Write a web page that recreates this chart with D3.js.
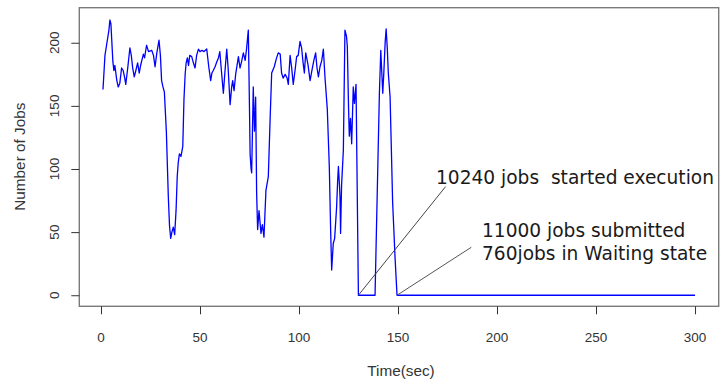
<!DOCTYPE html>
<html>
<head>
<meta charset="utf-8">
<script src="https://cdn.jsdelivr.net/npm/d3@7"></script>
<style>
  body { margin: 0; background: #fff; }
  svg { display: block; }
  .tick-label { font-family: "Liberation Sans", Arial, sans-serif; font-size: 13.5px; fill: #333; }
  .axis-title { font-family: "Liberation Sans", Arial, sans-serif; font-size: 15.3px; fill: #333; }
  .note { font-family: "DejaVu Sans", sans-serif; font-size: 18.6px; fill: #1a1a1a; white-space: pre; }
</style>
</head>
<body>
<svg id="chart"></svg>
<script>
// Jobs running over time
const times = [
  1, 2, 3, 4, 4.5, 5, 6, 6.5, 7, 8, 8.7, 9.5, 10.4, 11.2, 12, 12.5, 13.5, 14.6, 15.3, 16,
  16.8, 17.6, 18.5, 19.3, 20, 21.4, 22, 23, 24, 25.6, 26.5, 27.3, 28.2, 29.3, 30, 30.6, 31.3, 32, 33, 34,
  34.6, 35.2, 35.8, 36.5, 37.2, 37.9, 38.5, 39, 39.6, 40.4, 41.3, 41.9, 42.5, 43, 43.6, 44.2, 44.8, 45.8, 46.5, 47.5,
  48.3, 49.2, 50, 51, 52, 53.4, 54.5, 55.4, 56, 56.7, 57.6, 58.5, 59.3, 60, 60.8, 61.8, 62.5, 63.5, 64.2, 65.2,
  66, 66.5, 67.2, 68, 69.4, 70.2, 71, 71.9, 72.8, 73.5, 74.4, 75, 75.3, 75.8, 76.1, 76.9, 77.5, 78.1, 78.6, 79.1,
  79.8, 80.3, 80.8, 81.5, 82.3, 83.3, 84.5, 85.4, 86.2, 87.5, 88.5, 89.5, 90.5, 91.2, 92, 93, 94, 94.6, 95.5, 96.3,
  97.1, 98, 98.8, 99.6, 100.5, 101.3, 102, 102.7, 103.4, 104.5, 105.6, 106.5, 107.5, 108.4, 109.1, 109.8, 110.6, 111.5, 112.3, 113.1,
  114.3, 115.3, 116, 116.5, 117.3, 118, 119, 119.5, 119.9, 120.4, 120.7, 121, 121.5, 122.4, 123.2, 124, 124.4, 125, 125.4, 126,
  126.6, 127.4, 128, 128.8, 130, 138.4, 139.5, 140.6, 141.3, 142.3, 142.8, 143.5, 144, 144.6, 145.1, 146, 147.3, 148.5, 149.5, 300
];
const jobs = [
  163, 190, 200, 210, 218, 215, 185, 178, 182, 170, 165, 168, 180, 178, 172, 167, 180, 196, 190, 180,
  173, 178, 184, 176, 182, 191, 188, 198, 193, 194, 190, 181, 192, 202, 190, 170, 165, 161, 130, 78,
  55, 45, 50, 54, 48, 67, 94, 105, 112, 110, 118, 155, 175, 184, 188, 182, 190, 189, 185, 180,
  190, 195, 193, 194, 193, 195, 180, 170, 176, 178, 181, 185, 188, 193, 178, 160, 175, 195, 180, 151,
  165, 170, 162, 175, 189, 180, 185, 192, 186, 195, 210, 147, 112, 100, 97, 165, 130, 157, 81, 52,
  67, 58, 49, 56, 46, 83, 94, 139, 176, 181, 187, 192, 191, 176, 172, 175, 172, 167, 190, 180,
  167, 178, 189, 190, 201, 196, 185, 176, 192, 183, 170, 178, 186, 192, 180, 173, 181, 186, 195, 173,
  147, 102, 50, 20, 41, 45, 70, 90, 102, 88, 78, 49, 87, 115, 210, 205, 197, 150, 126, 140,
  120, 165, 152, 167, 0, 0, 80, 160, 194, 160, 175, 200, 211, 195, 176, 157, 73, 30, 0, 0
];
const xTicks = [0, 50, 100, 150, 200, 250, 300];
const yTicks = [0, 50, 100, 150, 200];

const noteStarted = ["10240 jobs  started execution"];
const noteSubmitted = ["11000 jobs submitted", "760jobs in Waiting state"];

const W = 720, H = 380;
const svg = d3.select('#chart').attr('width', W).attr('height', H);

const x = d3.scaleLinear().domain([-10.96, 311.96]).range([79.3, 718.7]);
const y = d3.scaleLinear().domain([-8.76, 227.76]).range([306.3, 7.7]);

// plot box
svg.append('rect')
  .attr('x', x.range()[0]).attr('y', y.range()[1])
  .attr('width', x.range()[1] - x.range()[0])
  .attr('height', y.range()[0] - y.range()[1])
  .attr('fill', 'none').attr('stroke', '#7a7a7a').attr('stroke-width', 1.4);

// x axis
const xAxis = svg.append('g').attr('transform', 'translate(0,' + y.range()[0] + ')')
  .call(d3.axisBottom(x).tickValues(xTicks).tickSize(8).tickFormat(''));
xAxis.select('.domain').remove();
xAxis.selectAll('line').attr('stroke', '#333');
svg.selectAll('.xlab').data(xTicks).enter().append('text')
  .attr('class', 'tick-label')
  .attr('x', d => x(d)).attr('y', 341.7)
  .attr('text-anchor', 'middle')
  .text(d => d);

// y axis
const yAxis = svg.append('g').attr('transform', 'translate(' + x.range()[0] + ',0)')
  .call(d3.axisLeft(y).tickValues(yTicks).tickSize(8).tickFormat(''));
yAxis.select('.domain').remove();
yAxis.selectAll('line').attr('stroke', '#333');
svg.selectAll('.ylab').data(yTicks).enter().append('text')
  .attr('class', 'tick-label')
  .attr('transform', d => 'translate(58.5,' + y(d) + ') rotate(-90)')
  .attr('text-anchor', 'middle')
  .text(d => d);

// axis titles
svg.append('text').attr('class', 'axis-title')
  .attr('x', 401).attr('y', 376).attr('text-anchor', 'middle')
  .text('Time(sec)');
svg.append('text').attr('class', 'axis-title')
  .attr('transform', 'translate(25,156.7) rotate(-90)')
  .attr('text-anchor', 'middle')
  .text('Number of Jobs');

// series
const pts = times.map((t, i) => [t, jobs[i]]);
svg.append('path').datum(pts)
  .attr('fill', 'none').attr('stroke', '#0000ff').attr('stroke-width', 1.3)
  .attr('stroke-linejoin', 'round')
  .attr('d', d3.line().x(d => x(d[0])).y(d => y(d[1])));

// annotation pointers
svg.append('line')
  .attr('x1', x(130)).attr('y1', y(0)).attr('x2', x(174)).attr('y2', y(86))
  .attr('stroke', '#444').attr('stroke-width', 1);
svg.append('line')
  .attr('x1', x(149.5)).attr('y1', y(0)).attr('x2', x(187)).attr('y2', y(38))
  .attr('stroke', '#555').attr('stroke-width', 1);

svg.append('text').attr('class', 'note')
  .attr('x', 436).attr('y', 184)
  .text(noteStarted[0]);
svg.selectAll('.sub').data(noteSubmitted).enter().append('text')
  .attr('class', 'note')
  .attr('x', 482).attr('y', (d, i) => 237 + i * 23)
  .text(d => d);
</script>
</body>
</html>
